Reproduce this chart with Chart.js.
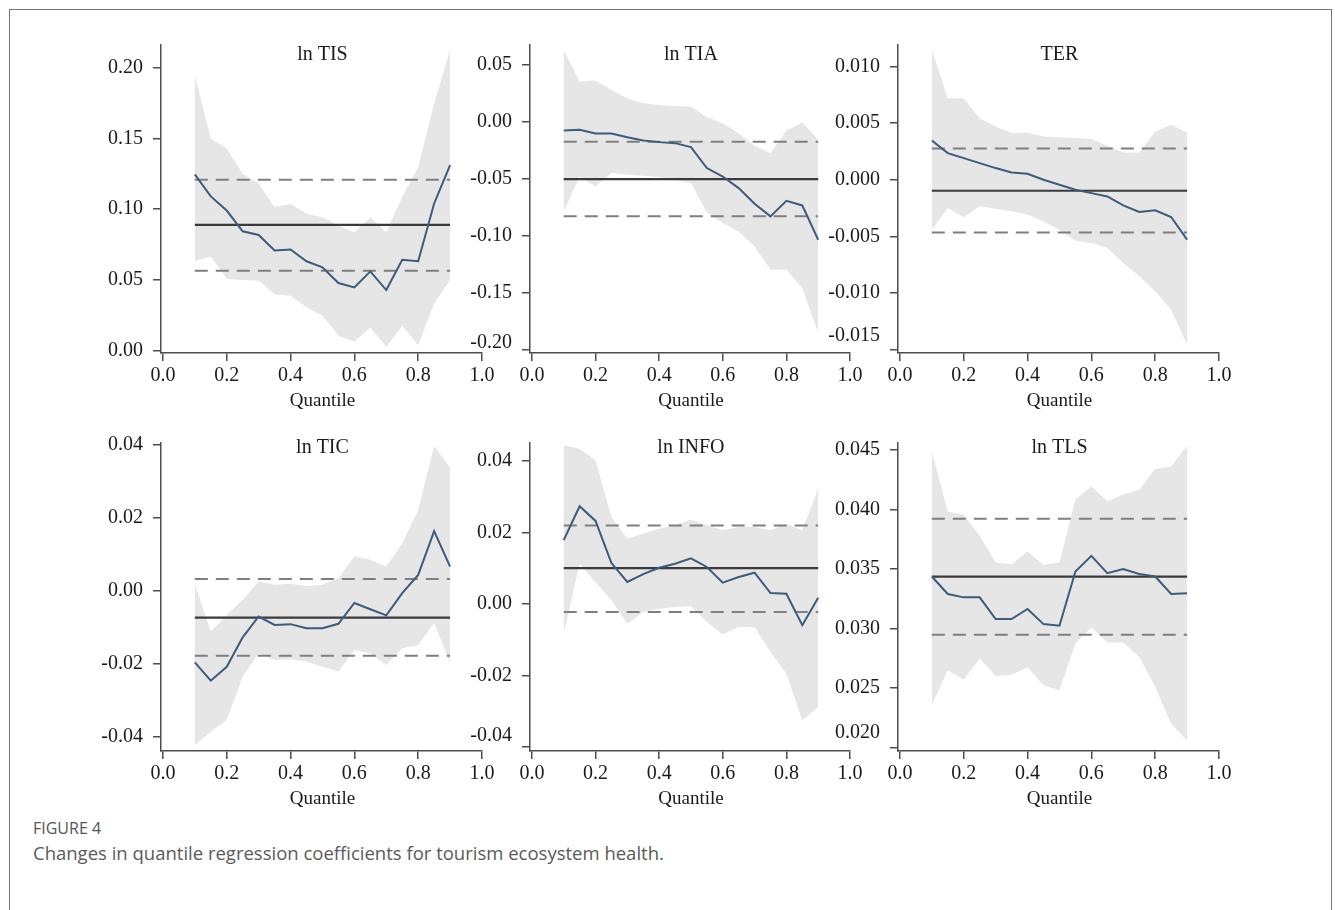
<!DOCTYPE html>
<html>
<head>
<meta charset="utf-8">
<script src="https://cdn.jsdelivr.net/npm/chart.js@4.4.1/dist/chart.umd.min.js"></script>
<style>
  html, body { margin: 0; padding: 0; background: #fff; }
  body { width: 1335px; height: 910px; overflow: hidden; position: relative; }
  #frame { position: absolute; left: 9px; top: 9px; width: 1321px; height: 960px;
           border: 1px solid #777; border-bottom: none; }
  canvas { position: absolute; }
  .fig-no { position: absolute; left: 33px; top: 817px; font: 16px "Open Sans", sans-serif; color: #555; }
  .fig-cap { position: absolute; left: 33px; top: 840px; font: 18.5px "Open Sans", sans-serif; color: #5a5a5a; }
</style>
</head>
<body>
<div id="frame"></div>
<div class="fig-no">FIGURE 4</div>
<div class="fig-cap">Changes in quantile regression coefficients for tourism ecosystem health.</div>

<script>
// Quantiles at which the regressions were estimated
const quantiles = [0.10, 0.15, 0.20, 0.25, 0.30, 0.35, 0.40, 0.45, 0.50, 0.55, 0.60, 0.65, 0.70, 0.75, 0.80, 0.85, 0.90];
const xTicks = [0.0, 0.2, 0.4, 0.6, 0.8, 1.0];

// ln TIS
const tisCoef  = [0.1245, 0.109, 0.099, 0.0844, 0.0818, 0.0708, 0.0715, 0.0632, 0.059, 0.0479, 0.0448, 0.0561, 0.0429, 0.0642, 0.0632, 0.104, 0.131];
const tisUpper = [0.1946, 0.1498, 0.1427, 0.125, 0.118, 0.1014, 0.1038, 0.0967, 0.0943, 0.0884, 0.0837, 0.0943, 0.0837, 0.1085, 0.1297, 0.1745, 0.2127];
const tisLower = [0.0632, 0.0665, 0.0507, 0.05, 0.0495, 0.04, 0.0389, 0.0307, 0.0248, 0.0106, 0.0064, 0.0165, 0.0028, 0.0177, 0.004, 0.033, 0.05];
const tisOls   = [0.0889, 0.1208, 0.0566];          // estimate, upper, lower
const tisTicks = [0.00, 0.05, 0.10, 0.15, 0.20];

// ln TIA
const tiaCoef  = [-0.0076, -0.007, -0.0102, -0.0102, -0.0135, -0.0164, -0.0178, -0.0187, -0.0222, -0.0406, -0.048, -0.0582, -0.0719, -0.083, -0.0693, -0.0734, -0.1035];
const tiaUpper = [0.0632, 0.0354, 0.0363, 0.028, 0.0208, 0.0164, 0.0149, 0.014, 0.0135, 0.0041, -0.0012, -0.01, -0.021, -0.0275, -0.0076, -0.0006, -0.0158];
const tiaLower = [-0.0787, -0.048, -0.0567, -0.045, -0.0465, -0.0474, -0.0485, -0.0509, -0.0538, -0.0795, -0.0889, -0.0962, -0.1094, -0.1298, -0.1298, -0.1459, -0.1854];
const tiaOls   = [-0.0503, -0.0175, -0.083];
const tiaTicks = [-0.20, -0.15, -0.10, -0.05, 0.00, 0.05];

// TER
const terCoef  = [0.00347, 0.00235, 0.00191, 0.00147, 0.00103, 0.00065, 0.00053, 0.0, -0.00044, -0.00088, -0.00118, -0.00147, -0.00226, -0.00285, -0.0027, -0.00329, -0.00529];
const terUpper = [0.01147, 0.0072, 0.0072, 0.00544, 0.0047, 0.00412, 0.00418, 0.00382, 0.00376, 0.00368, 0.00359, 0.003, 0.00241, 0.00241, 0.00426, 0.00485, 0.00418];
const terLower = [-0.00441, -0.0025, -0.00332, -0.00235, -0.00256, -0.00279, -0.00309, -0.00368, -0.00441, -0.00538, -0.00559, -0.00603, -0.00735, -0.00853, -0.00985, -0.01147, -0.01456];
const terOls   = [-0.00097, 0.00276, -0.00465];
const terTicks = [-0.015, -0.010, -0.005, 0.000, 0.005, 0.010];

// ln TIC
const ticCoef  = [-0.0196, -0.0246, -0.0208, -0.0127, -0.007, -0.0093, -0.0091, -0.0102, -0.0102, -0.009, -0.0033, -0.005, -0.0067, -0.0006, 0.0044, 0.0164, 0.0067];
const ticUpper = [0.002, -0.0111, -0.0066, -0.0024, 0.0026, 0.0017, 0.002, 0.0014, 0.0017, 0.0035, 0.0095, 0.0086, 0.0067, 0.0131, 0.0223, 0.0397, 0.0338];
const ticLower = [-0.0423, -0.0386, -0.0354, -0.0235, -0.0171, -0.0189, -0.0187, -0.0194, -0.0208, -0.0221, -0.0162, -0.0171, -0.0203, -0.0157, -0.0148, -0.0088, -0.0198];
const ticOls   = [-0.0073, 0.0033, -0.0178];
const ticTicks = [-0.04, -0.02, 0.00, 0.02, 0.04];

// ln INFO
const infoCoef  = [0.0179, 0.0274, 0.0233, 0.0115, 0.0062, 0.0084, 0.0102, 0.0113, 0.0128, 0.0104, 0.006, 0.0076, 0.0088, 0.0031, 0.0029, -0.0059, 0.0018];
const infoUpper = [0.0445, 0.0435, 0.0403, 0.0244, 0.0184, 0.0198, 0.0211, 0.0221, 0.0237, 0.0221, 0.0207, 0.0216, 0.0216, 0.0207, 0.0225, 0.0207, 0.0323];
const infoLower = [-0.0083, 0.0113, 0.0062, 0.0011, -0.0055, -0.0022, -0.0013, -0.0008, -0.0006, -0.005, -0.0085, -0.0064, -0.0064, -0.0134, -0.0195, -0.0325, -0.0288];
const infoOls   = [0.0101, 0.022, -0.0022];
const infoTicks = [-0.04, -0.02, 0.00, 0.02, 0.04];

// ln TLS
const tlsCoef  = [0.03437, 0.0329, 0.03262, 0.03262, 0.0308, 0.0308, 0.03164, 0.03037, 0.03023, 0.03479, 0.03611, 0.03465, 0.03501, 0.03459, 0.03437, 0.0329, 0.03296];
const tlsUpper = [0.04492, 0.03985, 0.03957, 0.0378, 0.03555, 0.03541, 0.03648, 0.03535, 0.03558, 0.04084, 0.04196, 0.0407, 0.04126, 0.04168, 0.04342, 0.04365, 0.04534];
const tlsLower = [0.02354, 0.02649, 0.0257, 0.02747, 0.02601, 0.02612, 0.02672, 0.02522, 0.0248, 0.02874, 0.03009, 0.02883, 0.02883, 0.02762, 0.02508, 0.02199, 0.02058];
const tlsOls   = [0.03437, 0.03923, 0.02947];
const tlsTicks = [0.020, 0.025, 0.030, 0.035, 0.040, 0.045];

// Panel layout: plot-area edges on the page, y range, label decimals,
// and how far the lowest y label is lifted clear of the x axis
const panels = [
  { title: 'ln TIS',  coef: tisCoef,  upper: tisUpper,  lower: tisLower,  ols: tisOls,  ticks: tisTicks,  dec: 2, yMin: -0.0015, yMax: 0.2158, L: 161, R: 482,  T: 45,  B: 353, tdy: 10, lift: 0 },
  { title: 'ln TIA',  coef: tiaCoef,  upper: tiaUpper,  lower: tiaLower,  ols: tiaOls,  ticks: tiaTicks,  dec: 2, yMin: -0.203,  yMax: 0.0675, L: 530, R: 850,  T: 45,  B: 353, tdy: 10, lift: 7 },
  { title: 'TER',     coef: terCoef,  upper: terUpper,  lower: terLower,  ols: terOls,  ticks: terTicks,  dec: 3, yMin: -0.0153, yMax: 0.0119, L: 898, R: 1219, T: 45,  B: 353, tdy: 10, lift: 14 },
  { title: 'ln TIC',  coef: ticCoef,  upper: ticUpper,  lower: ticLower,  ols: ticOls,  ticks: ticTicks,  dec: 2, yMin: -0.0439, yMax: 0.0406, L: 161, R: 482,  T: 443, B: 751, tdy: 5,  lift: 0 },
  { title: 'ln INFO', coef: infoCoef, upper: infoUpper, lower: infoLower, ols: infoOls, ticks: infoTicks, dec: 2, yMin: -0.0411, yMax: 0.0451, L: 530, R: 850,  T: 443, B: 751, tdy: 5,  lift: 11 },
  { title: 'ln TLS',  coef: tlsCoef,  upper: tlsUpper,  lower: tlsLower,  ols: tlsOls,  ticks: tlsTicks,  dec: 3, yMin: 0.0197,  yMax: 0.0456, L: 898, R: 1219, T: 443, B: 751, tdy: 5,  lift: 15 }
];

const YW = 90, XH = 62, PADR = 16, PADT = 14;
const SERIF = '"Liberation Serif", "Times New Roman", serif';
const AXIS = '#4d4d4d';
const INK = '#1a1a1a';

const pts = ys => quantiles.map((q, i) => ({ x: q, y: ys[i] }));
const flat = v => [{ x: quantiles[0], y: v }, { x: quantiles[quantiles.length - 1], y: v }];

// Panel title inside the plot, the "Quantile" caption and a lifted lowest y label
const panelText = {
  id: 'panelText',
  afterDraw(chart, args, opts) {
    const { ctx, chartArea, scales } = chart;
    const cx = scales.x.getPixelForValue(0.5);
    ctx.save();
    ctx.fillStyle = INK;
    ctx.textAlign = 'center';
    ctx.textBaseline = 'middle';
    ctx.font = '20px ' + SERIF;
    ctx.fillText(opts.title, cx, chartArea.top + opts.tdy);
    ctx.font = '19px ' + SERIF;
    ctx.fillText('Quantile', cx, chartArea.bottom + 48);
    if (opts.lift > 0) {
      const v = opts.ticks[0];
      ctx.font = '20px ' + SERIF;
      ctx.textAlign = 'right';
      ctx.fillText(v.toFixed(opts.dec), chartArea.left - 18, scales.y.getPixelForValue(v) - opts.lift);
    }
    ctx.restore();
  }
};

panels.forEach(p => {
  const cv = document.createElement('canvas');
  const w = YW + (p.R - p.L) + PADR;
  const h = PADT + (p.B - p.T) + XH;
  cv.width = w; cv.height = h;
  cv.style.left = (p.L - YW) + 'px';
  cv.style.top = (p.T - PADT) + 'px';
  cv.style.width = w + 'px';
  cv.style.height = h + 'px';
  document.body.appendChild(cv);

  const line = (data, color, width, dash) => ({
    data, borderColor: color, borderWidth: width, borderDash: dash || [],
    pointRadius: 0, fill: false, tension: 0
  });

  new Chart(cv.getContext('2d'), {
    type: 'line',
    data: {
      datasets: [
        line(pts(p.coef), '#3d5b7c', 2),
        line(flat(p.ols[0]), '#3a3a3a', 2.2),
        line(flat(p.ols[1]), '#7f7f7f', 2, [13, 8]),
        line(flat(p.ols[2]), '#7f7f7f', 2, [13, 8]),
        { data: pts(p.upper), borderWidth: 0, pointRadius: 0, backgroundColor: '#e6e6e6', fill: '+1', tension: 0 },
        { data: pts(p.lower), borderWidth: 0, pointRadius: 0, backgroundColor: '#e6e6e6', fill: false, tension: 0 }
      ]
    },
    options: {
      responsive: false,
      animation: false,
      devicePixelRatio: 1,
      layout: { padding: { left: 0, right: PADR, top: PADT, bottom: 0 } },
      plugins: {
        legend: { display: false },
        tooltip: { enabled: false },
        panelText: { title: p.title, tdy: p.tdy, lift: p.lift, ticks: p.ticks, dec: p.dec }
      },
      scales: {
        x: {
          type: 'linear', min: -0.006, max: 1.0,
          afterBuildTicks: s => { s.ticks = xTicks.map(v => ({ value: v })); },
          afterFit: s => { s.height = XH; s.paddingLeft = 0; s.paddingRight = 0; },
          ticks: { font: { family: SERIF, size: 20 }, color: INK, padding: 3, maxRotation: 0,
                   callback: v => Number(v).toFixed(1) },
          grid: { drawOnChartArea: false, drawTicks: true, tickLength: 8, color: AXIS, lineWidth: 1.5 },
          border: { display: true, color: AXIS, width: 1.5 }
        },
        y: {
          type: 'linear', min: p.yMin, max: p.yMax,
          afterBuildTicks: s => { s.ticks = p.ticks.map(v => ({ value: v })); },
          afterFit: s => { s.width = YW; s.paddingTop = 0; s.paddingBottom = 0; },
          ticks: { font: { family: SERIF, size: 20 }, color: INK, padding: 10,
                   callback: (v, i) => (i === 0 && p.lift > 0) ? '' : Number(v).toFixed(p.dec) },
          grid: { drawOnChartArea: false, drawTicks: true, tickLength: 8, color: AXIS, lineWidth: 1.5 },
          border: { display: true, color: AXIS, width: 1.5 }
        }
      }
    },
    plugins: [panelText]
  });
});
</script>
</body>
</html>
